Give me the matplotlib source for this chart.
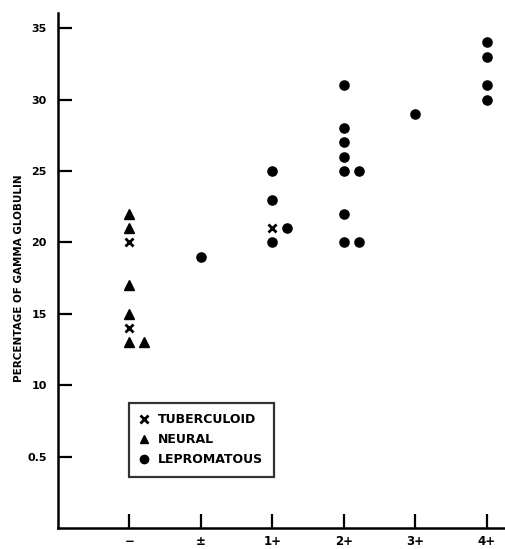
import numpy as np
import matplotlib
matplotlib.use("Agg")
import matplotlib.pyplot as plt
from matplotlib.lines import Line2D

# x categories (skin test reaction)
categories = ["\u2212", "\u00b1", "1+", "2+", "3+", "4+"]
y_ticks = [5, 10, 15, 20, 25, 30, 35]
y_ticklabels = ["0.5", "10", "15", "20", "25", "30", "35"]

# per series: category index, side-by-side column (0 = on tick, 1 = beside), value
tub_cat = [0, 0, 2]
tub_col = [0, 0, 0]
tub_val = [20, 14, 21]

neu_cat = [0, 0, 0, 0, 0, 0]
neu_col = [0, 0, 0, 0, 0, 1]
neu_val = [22, 21, 17, 15, 13, 13]

lep_cat = [1, 2, 2, 2, 2, 3, 3, 3, 3, 3, 3, 3, 3, 3, 4, 5, 5, 5, 5]
lep_col = [0, 0, 0, 1, 0, 0, 0, 0, 0, 0, 1, 0, 0, 1, 0, 0, 0, 0, 0]
lep_val = [19, 25, 23, 21, 20, 31, 28, 27, 26, 25, 25, 22, 20, 20, 29, 34, 33, 31, 30]

OFFSET = 0.21
FONT = dict(family="DejaVu Sans", fontweight="bold")


def xs(cat, col):
    return np.array(cat) + OFFSET * np.array(col)


fig = plt.figure(figsize=(5.06, 5.49), dpi=100)
ax = fig.add_axes([58 / 506, 21 / 549, 448 / 506, 515 / 549])

ax.plot(xs(tub_cat, tub_col), tub_val, "x", color="black", markersize=6,
        markeredgewidth=2.0, linestyle="none", zorder=3)
ax.plot(xs(neu_cat, neu_col), neu_val, "^", color="black", markersize=6.8,
        linestyle="none", zorder=3)
ax.plot(xs(lep_cat, lep_col), lep_val, "o", color="black", markersize=6.6,
        linestyle="none", zorder=3)

ax.set_xlim(-1, 5.27)
ax.set_ylim(0, 36.06)

for s in ["top", "right"]:
    ax.spines[s].set_visible(False)
for s in ["left", "bottom"]:
    ax.spines[s].set_linewidth(1.8)

ax.set_xticks(range(len(categories)))
ax.set_xticklabels(categories, fontsize=8.5, **FONT)
ax.set_yticks(y_ticks)
ax.set_yticklabels(y_ticklabels, fontsize=8, **FONT)
ax.tick_params(axis="both", direction="in", length=10, width=1.6, color="black")
ax.tick_params(axis="y", pad=8)
ax.tick_params(axis="x", pad=5)

ax.set_ylabel("PERCENTAGE OF GAMMA GLOBULIN", fontsize=7.5, **FONT)
ax.yaxis.set_label_coords(-0.077, 0.485)

handles = [
    Line2D([], [], marker="x", color="black", markersize=5.5, markeredgewidth=2, linestyle="none"),
    Line2D([], [], marker="^", color="black", markersize=6, linestyle="none"),
    Line2D([], [], marker="o", color="black", markersize=6, linestyle="none"),
]
leg = ax.legend(handles, ["TUBERCULOID", "NEURAL", "LEPROMATOUS"],
                loc="upper left", bbox_to_anchor=(0.158, 0.243),
                frameon=True, fancybox=False, handlelength=0.8, handletextpad=0.7,
                labelspacing=0.55, borderpad=0.85, borderaxespad=0,
                prop=dict(family="DejaVu Sans", weight="bold", size=9))
leg.get_frame().set_edgecolor("black")
leg.get_frame().set_linewidth(1.6)

fig.savefig("out.png", dpi=100)
